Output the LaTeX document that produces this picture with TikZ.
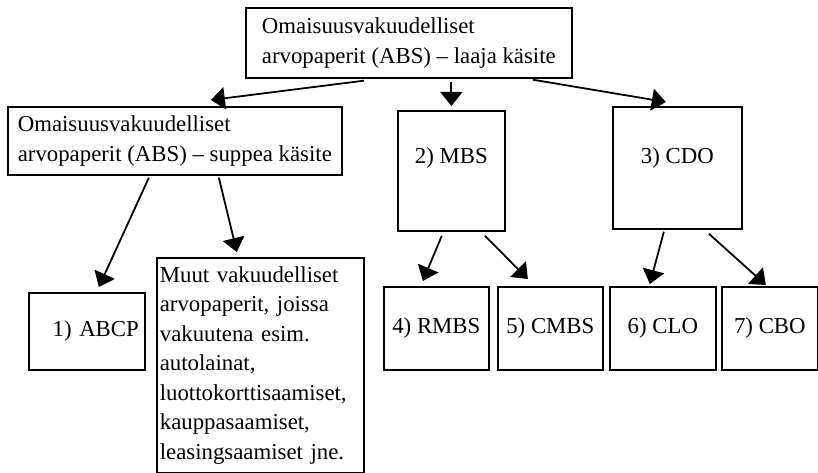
\documentclass[tikz,border=0pt]{standalone}
\usepackage{fontspec}
\setmainfont{Liberation Serif}
\usetikzlibrary{arrows.meta}
\begin{document}
\begin{tikzpicture}[x=1pt, y=-1pt,
    box/.style={draw, line width=1.7pt, inner sep=0pt, font=\fontsize{22.8}{29.5}\selectfont},
    upper/.style={text height=16pt, text depth=#1},
    link/.style={line width=1.8pt, -{Triangle[length=14pt, width=22pt]}}]
    \useasboundingbox (0,0) rectangle (818,473);

    % top box
    \node[box, anchor=north west, minimum width=326pt, minimum height=70pt, align=left] (absw) at (245,7)
        {Omaisuusvakuudelliset\\arvopaperit (ABS) -- laaja käsite};

    % second row
    \node[box, anchor=north west, minimum width=334pt, minimum height=68pt, align=left] (absn) at (7,106)
        {Omaisuusvakuudelliset\\arvopaperit (ABS) -- suppea käsite};
    \node[box, upper=30pt, anchor=north west, minimum width=107pt, minimum height=120pt] (mbs) at (397,110) {2) MBS};
    \node[box, upper=24pt, anchor=north west, minimum width=129pt, minimum height=122pt] (cdo) at (612,106) {3) CDO};

    % bottom row
    \node[box, anchor=north west, minimum width=116pt, minimum height=77pt, inner xsep=6pt, text width=104pt, align=right] (abcp) at (28,292) {1) ABCP};
    \node[box, anchor=north west, minimum height=215pt, inner xsep=3pt, text width=201pt, align=left] (muut) at (156,257)
        {Muut vakuudelliset\\arvopaperit, joissa\\vakuutena esim.\\autolainat,\\luottokorttisaamiset,\\kauppasaamiset,\\leasingsaamiset jne.};
    \node[box, anchor=north west, minimum width=105pt, minimum height=83pt] (rmbs) at (383,286) {4) RMBS};
    \node[box, anchor=north west, minimum width=105pt, minimum height=83pt] (cmbs) at (497,286) {5) CMBS};
    \node[box, anchor=north west, minimum width=106pt, minimum height=83pt] (clo) at (609,286) {6) CLO};
    \node[box, anchor=north west, minimum width=96pt, minimum height=83pt] (cbo) at (721,286) {7) CBO};

    % arrows from the top box
    \draw[link] ([xshift=-45pt, yshift=-2pt]absw.south) -- ([xshift=36pt, yshift=6pt]absn.north);
    \draw[link] ([xshift=42.5pt, yshift=-3pt]absw.south) -- ([yshift=4pt]mbs.north);
    \draw[link] ([xshift=124pt, yshift=-1pt]absw.south) -- ([xshift=-11.5pt, yshift=4pt]cdo.north);

    % arrows to the bottom row
    \draw[link] ([xshift=-26pt, yshift=-2pt]absn.south) -- ([xshift=12pt, yshift=5pt]abcp.north);
    \draw[link] ([xshift=44pt, yshift=-2pt]absn.south) -- ([xshift=-23.5pt, yshift=5pt]muut.north);
    \draw[link] ([xshift=-9.5pt, yshift=-4pt]mbs.south) -- ([xshift=-13.5pt, yshift=5pt]rmbs.north);
    \draw[link] ([xshift=33.5pt, yshift=-4pt]mbs.south) -- ([xshift=-22.5pt, yshift=7pt]cmbs.north);
    \draw[link] ([xshift=-13.5pt, yshift=-2pt]cdo.south) -- ([xshift=-13pt, yshift=2pt]clo.north);
    \draw[link] ([xshift=31.5pt, yshift=-4pt]cdo.south) -- ([xshift=-4pt, yshift=1pt]cbo.north);
\end{tikzpicture}
\end{document}
